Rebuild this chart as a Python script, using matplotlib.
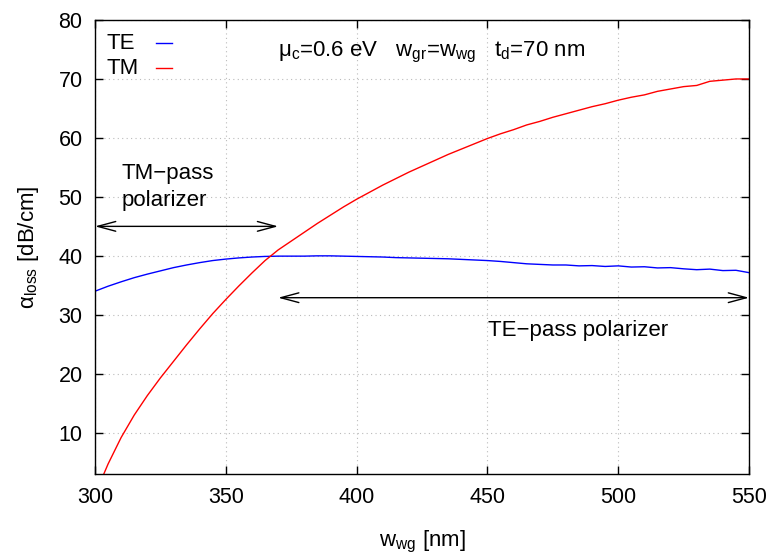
import matplotlib
matplotlib.use('Agg')
import matplotlib.pyplot as plt
import numpy as np

plt.rcParams['font.family'] = ['Liberation Sans', 'DejaVu Sans']
plt.rcParams['mathtext.default'] = 'regular'

# waveguide width [nm]
w_wg = np.arange(300, 551, 5)

# loss of the TE mode [dB/cm]
te_loss = [34.0, 34.85, 35.6, 36.3, 36.9, 37.45, 38.0, 38.45, 38.85, 39.2,
           39.45, 39.65, 39.8, 39.9, 39.95, 39.95, 39.95, 40.0, 40.0, 39.95,
           39.9, 39.85, 39.8, 39.7, 39.65, 39.6, 39.55, 39.5, 39.4, 39.3,
           39.2, 39.05, 38.85, 38.65, 38.55, 38.45, 38.45, 38.3, 38.35, 38.2,
           38.3, 38.1, 38.15, 37.95, 38.0, 37.8, 37.65, 37.75, 37.5, 37.55,
           37.15]

# loss of the TM mode [dB/cm]
tm_loss = [-0.5, 4.7, 9.2, 13.0, 16.3, 19.3, 22.1, 24.9, 27.6, 30.2,
           32.6, 34.9, 37.1, 39.2, 41.0, 42.5, 44.0, 45.5, 46.9, 48.3,
           49.6, 50.8, 52.0, 53.1, 54.2, 55.2, 56.2, 57.2, 58.1, 59.0,
           59.9, 60.7, 61.4, 62.2, 62.8, 63.5, 64.1, 64.7, 65.3, 65.8,
           66.4, 66.9, 67.3, 67.9, 68.3, 68.7, 68.9, 69.6, 69.8, 70.0,
           70.0]

x_ticks = [300, 350, 400, 450, 500, 550]
y_ticks = [10, 20, 30, 40, 50, 60, 70, 80]

# crossing width separating the two polarizer regimes
w_cross = 370

fig = plt.figure(figsize=(7.73, 5.54), dpi=100)
ax = fig.add_axes([0.1229, 0.1444, 0.8461, 0.8195])

te_line, = ax.plot(w_wg, te_loss, color='#0000ff', lw=1.0)
tm_line, = ax.plot(w_wg, tm_loss, color='#ff0000', lw=1.0)

ax.set_xlim(300, 550)
ax.set_ylim(3, 80)
ax.set_xticks(x_ticks)
ax.set_yticks(y_ticks)
ax.tick_params(direction='in', length=6, width=1, top=True, right=True,
               labelsize=15.5, pad=9)
ax.grid(True, color='#bbbbbb', lw=0.8, linestyle=(0, (1, 3)))
for s in ax.spines.values():
    s.set_linewidth(1.0)

ax.set_xlabel('w$_{wg}$ [nm]', fontsize=16)
ax.set_ylabel('α$_{loss}$ [dB/cm]', fontsize=16)
ax.xaxis.set_label_coords(0.5, -0.122)
ax.yaxis.set_label_coords(-0.083, 0.5)

# key: label on the left, short sample line on the right
for (name, line, ty) in [('TE', te_line, 0.948), ('TM', tm_line, 0.893)]:
    ax.text(0.018, ty, name, transform=ax.transAxes, fontsize=16,
            ha='left', va='center')
    ax.plot([0.093, 0.118], [ty + 0.002, ty + 0.002], transform=ax.transAxes,
            color=line.get_color(), lw=1.0)

ax.text(w_cross, 73.9, 'μ$_c$=0.6 eV   w$_{gr}$=w$_{wg}$   t$_d$=70 nm',
        fontsize=16, ha='left', va='baseline')

arrow = dict(arrowstyle='<->,head_length=1.3,head_width=0.35', color='black',
             lw=1.0, shrinkA=0, shrinkB=0)
ax.annotate('', xy=(w_cross, 45), xytext=(300, 45), arrowprops=arrow,
            annotation_clip=False)
ax.annotate('', xy=(550, 32.9), xytext=(w_cross, 32.9), arrowprops=arrow,
            annotation_clip=False)

ax.text(310, 48.4, 'TM\u2212pass\npolarizer', fontsize=16, ha='left',
        va='baseline', linespacing=1.4)
ax.text(450.2, 26.4, 'TE\u2212pass polarizer', fontsize=16, ha='left',
        va='baseline')

fig.savefig('out.png', dpi=100)
